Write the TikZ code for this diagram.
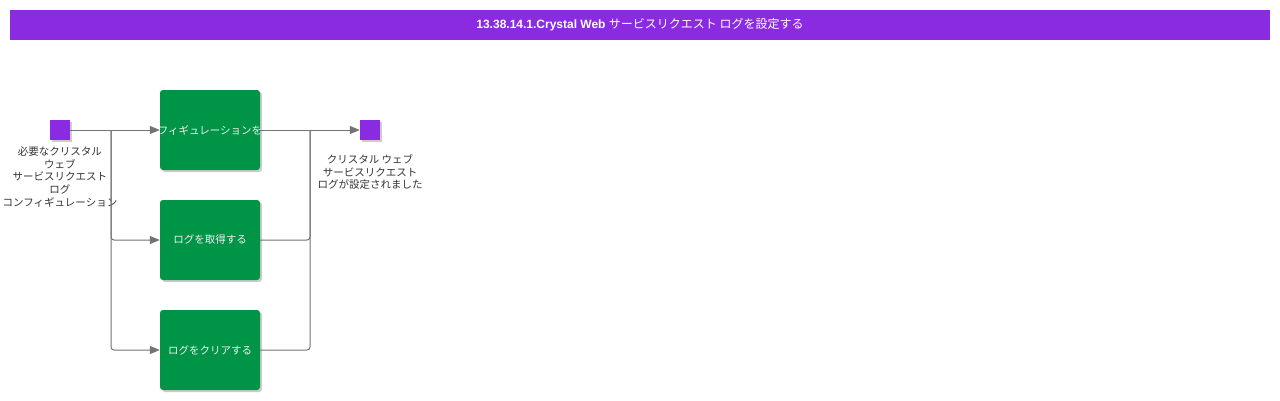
\documentclass[tikz,border=0pt]{standalone}
\usepackage{fontspec}
\setmainfont{Liberation Sans}
\newfontfamily\jpfont{Noto Sans CJK JP}
\usepackage{tikz}
\usetikzlibrary{positioning, arrows.meta, shadows}
\definecolor{titlepurple}{RGB}{138,43,226}
\definecolor{taskgreen}{RGB}{0,148,70}
\definecolor{linegray}{RGB}{115,115,115}
\definecolor{labelgray}{RGB}{51,51,51}
\tikzstyle{title} = [fill=titlepurple, text=white, minimum width=1260pt, minimum height=30pt, inner sep=0pt, font=\fontsize{12}{14}\selectfont]
\tikzstyle{event} = [fill=titlepurple, minimum size=20pt, inner sep=0pt, drop shadow={shadow xshift=2pt, shadow yshift=-2pt, fill=black, opacity=0.2}]
\tikzstyle{task} = [fill=taskgreen, rounded corners=3pt, minimum width=100pt, minimum height=80pt, inner sep=0pt, text=white!88!gray, font=\jpfont\fontsize{10.5}{12}\selectfont, drop shadow={shadow xshift=2pt, shadow yshift=-2pt, fill=black, opacity=0.2}]
\tikzstyle{caption} = [text=labelgray, align=center, inner sep=0pt, font=\jpfont\fontsize{10.5}{12.7}\selectfont]
\tikzstyle{branch} = [coordinate]
\tikzstyle{line} = [draw=linegray, line width=1pt]

\begin{document}
\begin{tikzpicture}[auto, node distance=150pt, >={Triangle[length=10pt, width=8pt]}]
	\useasboundingbox (0,0) rectangle (1280pt,-400pt);
	\node [title] (header) at (640pt,-25pt) {\textbf{13.38.14.1.Crystal Web} {\jpfont サービスリクエスト ログを設定する}};

	\node [event] (start) at (60pt,-130pt) {};
	\node [task, right of=start] (getconfig) {\makebox[100pt][c]{フィギュレーションを}};
	\node [event, right of=getconfig, node distance=160pt] (end) {};
	\node [task, below of=getconfig, node distance=110pt] (getlog) {ログを取得する};
	\node [task, below of=getlog, node distance=110pt] (clearlog) {ログをクリアする};

	\node [caption, below of=start, node distance=47pt] (startlabel) {必要なクリスタル\\ウェブ\\サービスリクエスト\\ログ\\コンフィギュレーション};
	\node [caption, below of=end, node distance=42pt] (endlabel) {クリスタル ウェブ\\サービスリクエスト\\ログが設定されました};

	\node [branch, right of=start, node distance=51pt] (fork) {};
	\node [branch, right of=getconfig, node distance=100pt] (merge) {};

	\draw [line, ->] (start) -- (getconfig);
	\draw [line, ->, rounded corners=3pt] (fork) |- (getlog);
	\draw [line, ->, rounded corners=3pt] (fork) |- (clearlog);
	\draw [line, ->] (getconfig) -- (end);
	\draw [line, rounded corners=3pt] (getlog) -| (merge);
	\draw [line, rounded corners=3pt] (clearlog) -| (merge);
\end{tikzpicture}
\end{document}
